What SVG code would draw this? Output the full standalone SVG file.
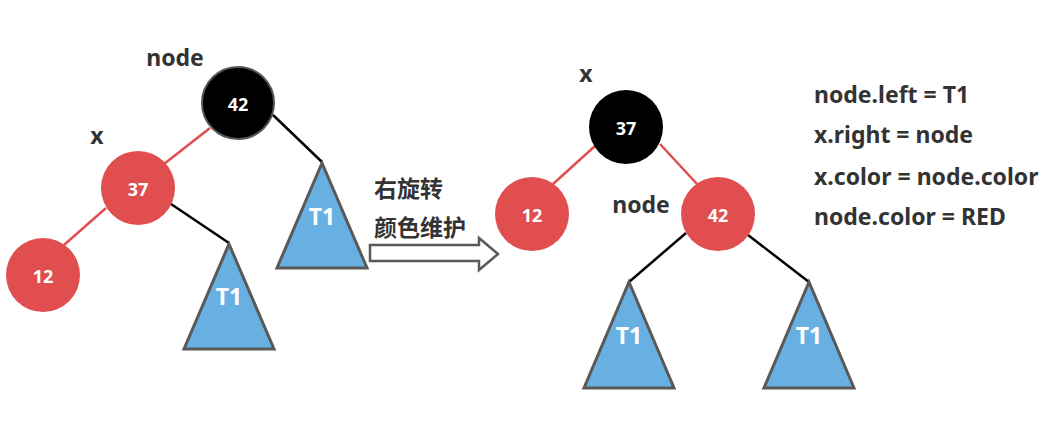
<svg xmlns="http://www.w3.org/2000/svg" width="1058" height="430" viewBox="0 0 1058 430">
<style>
text{font-family:"Noto Sans","Noto Sans CJK SC",sans-serif;font-weight:bold}
.lbl{font-size:23px;fill:#333}
.num{font-size:18px;fill:#fff;text-anchor:middle}
.t1{font-size:23px;fill:#fff;text-anchor:middle}
.red{fill:#e04e50}
.blk{fill:#000}
.tri{fill:#69b0e2;stroke:#595959;stroke-width:3;stroke-linejoin:miter}
.er{stroke:#e04e50;stroke-width:2.5;fill:none}
.eb{stroke:#000;stroke-width:2.5;fill:none}
.cn{font-size:23px;fill:#333;font-family:"Noto Sans CJK SC",sans-serif}
</style>
<rect width="1058" height="430" fill="#fff"/>
<g id="connectors">
<line class="er" x1="210" y1="128" x2="164" y2="164"/>
<line class="eb" x1="273" y1="115" x2="322" y2="162"/>
<line class="er" x1="106" y1="208" x2="64" y2="245"/>
<line class="eb" x1="171" y1="204" x2="229" y2="243"/>
<line class="er" x1="595" y1="146" x2="553" y2="184"/>
<line class="er" x1="660" y1="144" x2="697" y2="184"/>
<line class="eb" x1="686" y1="233" x2="629" y2="282"/>
<line class="eb" x1="748" y1="235" x2="809" y2="282"/>
</g>
<g id="L42"><circle cx="238" cy="103" r="36" class="blk" stroke="#555" stroke-width="2"/><text class="num" x="238" y="111">42</text></g>
<g id="L37"><circle cx="138" cy="188" r="37" class="red"/><text class="num" x="138" y="196">37</text></g>
<g id="L12"><circle cx="43" cy="275" r="37" class="red"/><text class="num" x="43" y="283">12</text></g>
<g id="LT1a"><polygon class="tri" points="322,163 277,268 367,268"/><text class="t1" x="322" y="225">T1</text></g>
<g id="LT1b"><polygon class="tri" points="229,244 184,349 274,349"/><text class="t1" x="229" y="305">T1</text></g>
<g id="labelsL"><text class="lbl" x="175" y="66" text-anchor="middle">node</text><text class="lbl" x="97" y="144" text-anchor="middle">x</text></g>
<g id="arrow"><path d="M370,245 H479 V238 L498,254 L479,270 V261 H370 Z" fill="#fff" stroke="#595959" stroke-width="2.5" stroke-linejoin="miter"/>
<text class="cn" x="374" y="197">右旋转</text><text class="cn" x="374" y="236">颜色维护</text></g>
<g id="R37"><circle cx="626" cy="127" r="37" class="blk"/><text class="num" x="626" y="135">37</text></g>
<g id="R12"><circle cx="532" cy="214" r="37" class="red"/><text class="num" x="532" y="222">12</text></g>
<g id="R42"><circle cx="718" cy="214" r="37" class="red"/><text class="num" x="718" y="222">42</text></g>
<g id="RT1a"><polygon class="tri" points="629,282 584,388 674,388"/><text class="t1" x="629" y="344">T1</text></g>
<g id="RT1b"><polygon class="tri" points="809,282 764,388 854,388"/><text class="t1" x="809" y="344">T1</text></g>
<g id="labelsR"><text class="lbl" x="586" y="82" text-anchor="middle">x</text><text class="lbl" x="641" y="213" text-anchor="middle">node</text></g>
<g id="code">
<text class="lbl" x="814" y="103">node.left = T1</text>
<text class="lbl" x="814" y="143">x.right = node</text>
<text class="lbl" x="814" y="185">x.color = node.color</text>
<text class="lbl" x="814" y="225">node.color = RED</text>
</g>
</svg>
